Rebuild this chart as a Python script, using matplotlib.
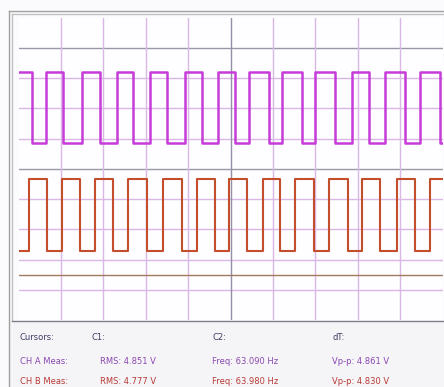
import matplotlib
matplotlib.use('Agg')
import matplotlib.pyplot as plt
from matplotlib.lines import Line2D
from matplotlib.patches import Rectangle

W, H = 444, 387

# edge times (ms, 20 ms/div) read for each channel
cha_start_high = True
cha_falls = [6.4, 21.0, 38.4, 54.0, 70.0, 86.5, 102.1, 118.1, 133.7, 149.3, 165.3, 182.3, 198.8]
cha_rises = [13.0, 29.9, 46.5, 62.0, 78.5, 94.1, 108.7, 124.3, 139.8, 157.3, 172.8, 189.3]
cha_high, cha_low = 8.21, 5.86

chb_start_high = False
chb_rises = [5.0, 20.5, 36.1, 51.6, 68.1, 84.2, 99.3, 115.3, 130.4, 146.4, 162.0, 178.5, 194.1]
chb_falls = [13.4, 29.0, 44.6, 60.6, 77.1, 92.7, 107.8, 123.3, 139.4, 155.4, 170.5, 187.0]
chb_high, chb_low = 4.67, 2.28

chb_level = 1.49   # CH B marker line (div)

cursor_labels = ['Cursors:', 'C1:', 'C2:', 'dT:']
cha_meas = ['CH A Meas:', 'RMS: 4.851 V', 'Freq: 63.090 Hz', 'Vp-p: 4.861 V']
chb_meas = ['CH B Meas:', 'RMS: 4.777 V', 'Freq: 63.980 Hz', 'Vp-p: 4.830 V']


def square(start_high, rises, falls, hi, lo, t_end=200.0):
    edges = sorted([(t, 'r') for t in rises] + [(t, 'f') for t in falls])
    level = hi if start_high else lo
    xs, ys = [0.0], [level]
    for t, kind in edges:
        xs += [t, t]
        new = hi if kind == 'r' else lo
        ys += [level, new]
        level = new
    xs.append(t_end)
    ys.append(level)
    return xs, ys


def fx(px):
    return px / W


def fy(py):
    return 1 - py / H


fig = plt.figure(figsize=(W / 100, H / 100), dpi=100)
fig.patch.set_facecolor('#fbfbfd')
# status panel under the screen
fig.add_artist(Rectangle((fx(9), 0), 1 - fx(9), fy(320.5), transform=fig.transFigure,
                         facecolor='#f5f5f7', edgecolor='none', zorder=0))

left, right, top, bottom = 18.5, 442.6, 17.8, 320.0
ax = fig.add_axes([fx(left), fy(bottom), fx(right) - fx(left), fy(top) - fy(bottom)])
ax.set_facecolor('#fefdff')
ax.set_xlim(0, 200)
ax.set_ylim(0, 10)
for s in ax.spines.values():
    s.set_visible(False)
ax.set_xticks([])
ax.set_yticks([])

grid_c = '#dab8e6'
for i in range(1, 10):
    c = '#9a98a8' if i in (5, 9) else grid_c
    ax.axhline(i, color=c, lw=1.0, zorder=1)
for i in range(1, 10):
    c = '#958ea8' if i == 5 else grid_c
    ax.axvline(i * 20, color=c, lw=1.0, zorder=1)
ax.axhline(chb_level, color='#a27a5e', lw=1.0, zorder=1)

xa, ya = square(cha_start_high, cha_rises, cha_falls, cha_high, cha_low)
ax.plot(xa, ya, color='#c63cd8', lw=1.8, zorder=3, solid_joinstyle='round')
xb, yb = square(chb_start_high, chb_rises, chb_falls, chb_high, chb_low)
ax.plot(xb, yb, color='#c24e2c', lw=1.5, zorder=3, solid_joinstyle='round')

# window frame
frame = [
    ((9, W), (11, 11), '#a0a0a0'),
    ((12, W), (14, 14), '#c0c0c0'),
    ((9, 9), (11, H), '#a0a0a0'),
    ((12, 12), (14, 320), '#c0c0c0'),
    ((12, W), (320.5, 320.5), '#80808c'),
]
for xs, ys, c in frame:
    fig.add_artist(Line2D([fx(x) for x in xs], [fy(y) for y in ys],
                          transform=fig.transFigure, color=c, lw=1.0))

col_x = [20, 91, 212, 332]
val_x = [20, 100, 212, 332]
for i, t in enumerate(cursor_labels):
    fig.text(fx(col_x[i]), fy(337), t, fontsize=6, color='#3c3c64',
             va='center', ha='left', family='DejaVu Sans')
for i, t in enumerate(cha_meas):
    fig.text(fx(val_x[i]), fy(362), t, fontsize=6, color='#8a48b0',
             va='center', ha='left', family='DejaVu Sans')
for i, t in enumerate(chb_meas):
    fig.text(fx(val_x[i]), fy(382), t, fontsize=6, color='#b83a36',
             va='center', ha='left', family='DejaVu Sans')

fig.savefig('out.png', dpi=100, facecolor=fig.get_facecolor())
